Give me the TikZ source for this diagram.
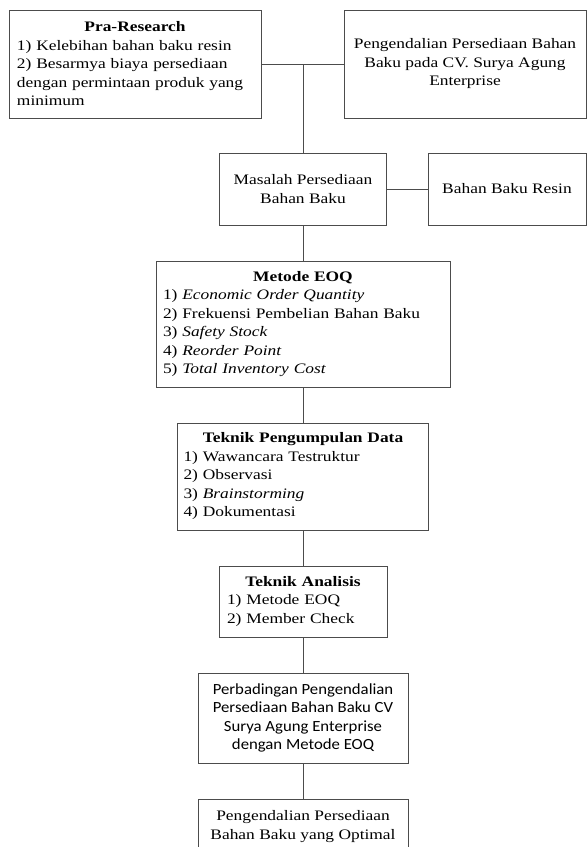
\documentclass[tikz,border=0pt]{standalone}
\usepackage{fontspec}
\setmainfont{Liberation Serif}[FakeStretch=1.2]
\newfontfamily\calibri{Carlito}[FakeStretch=1.08]

\begin{document}
\begin{tikzpicture}[x=1pt,y=-1pt,
    kotak/.style={draw=black!70,line width=0.9pt,rectangle,inner sep=0pt,
      font=\fontsize{14.5}{18.5}\selectfont,align=center},
    kiri/.style={kotak,align=left},
    garis/.style={draw=black!70,line width=0.9pt}]
    \useasboundingbox (0,0) rectangle (587,847);
    \node[kiri,minimum width=252,minimum height=108,text width=236] (pra) at (135,64)
      {\makebox[\hsize]{\textbf{Pra-Research}}\\
       1) Kelebihan bahan baku resin\\2) Besarmya biaya persediaan\\dengan permintaan produk yang\\minimum};
    \node[kotak,minimum width=242,minimum height=108] (objek) at (465,64)
      {Pengendalian Persediaan Bahan\\Baku pada CV. Surya Agung\\Enterprise};
    \node[kotak,minimum width=167,minimum height=72] (masalah) at (303,189)
      {Masalah Persediaan\\Bahan Baku};
    \node[kotak,minimum width=158,minimum height=72] (resin) at (507,189)
      {Bahan Baku Resin};
    \node[kiri,minimum width=294,minimum height=126,text width=280] (eoq) at (303,324)
      {\makebox[\hsize]{\textbf{Metode EOQ}}\\
       1) \textit{Economic Order Quantity}\\2) Frekuensi Pembelian Bahan Baku\\3) \textit{Safety Stock}\\
       4) \textit{Reorder Point}\\5) \textit{Total Inventory Cost}};
    \node[kiri,minimum width=251,minimum height=107,text width=239] (data) at (303,476.5)
      {\makebox[\hsize]{\textbf{Teknik Pengumpulan Data}}\\
       1) Wawancara Testruktur\\2) Observasi\\3) \textit{Brainstorming}\\4) Dokumentasi};
    \node[kiri,minimum width=168,minimum height=71,text width=152] (analisis) at (303,601.5)
      {\makebox[\hsize]{\textbf{Teknik Analisis}}\\
       1) Metode EOQ\\2) Member Check};
    \node[kotak,minimum width=210,minimum height=90,font=\calibri\fontsize{15.5}{18.5}\selectfont] (banding) at (303,718)
      {Perbadingan Pengendalian\\Persediaan Bahan Baku CV\\Surya Agung Enterprise\\dengan Metode EOQ};
    \node[kotak,minimum width=210,minimum height=55] (optimal) at (303,826.5)
      {Pengendalian Persediaan\\Bahan Baku yang Optimal};
    \coordinate (j) at (303,64);
    \draw[garis] (pra.east) -- (objek.west);
    \draw[garis] (j) -- (masalah.north);
    \draw[garis] (masalah.east) -- (resin.west);
    \draw[garis] (masalah.south) -- (eoq.north);
    \draw[garis] (eoq.south) -- (data.north);
    \draw[garis] (data.south) -- (analisis.north);
    \draw[garis] (analisis.south) -- (banding.north);
    \draw[garis] (banding.south) -- (optimal.north);
\end{tikzpicture}
\end{document}
